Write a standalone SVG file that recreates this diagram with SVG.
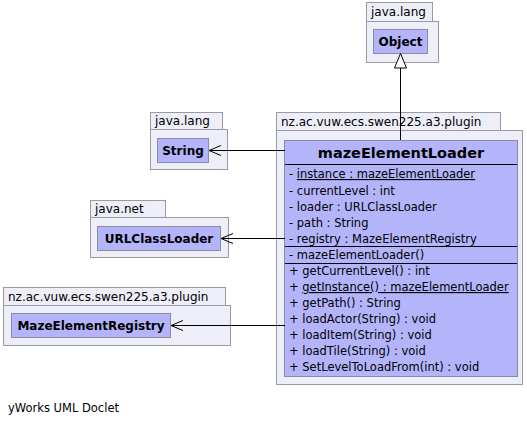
<svg xmlns="http://www.w3.org/2000/svg" width="527" height="423" viewBox="0 0 527 423">
<defs>
<style>
.pkg{fill:#eeeef9;stroke:#9a9aa6;stroke-width:1}
.cls{fill:#b4b4fb;stroke:#8c8ca0;stroke-width:1}
.t{font-family:"DejaVu Sans","Liberation Sans",sans-serif;font-size:11.5px;fill:#000}
.pl{font-family:"DejaVu Sans","Liberation Sans",sans-serif;font-size:12px;fill:#000}
.cn{font-family:"DejaVu Sans","Liberation Sans",sans-serif;font-size:12px;font-weight:bold;fill:#000;text-anchor:middle}
.title{font-family:"DejaVu Sans","Liberation Sans",sans-serif;font-size:14.5px;font-weight:bold;fill:#000;text-anchor:middle}
.ln{stroke:#000;stroke-width:1;fill:none}
</style>
</defs>
<rect width="527" height="423" fill="#fff"/>
<g id="pkg-object">
<rect class="pkg" x="366.5" y="2.5" width="66" height="19"/>
<rect class="pkg" x="366.5" y="21.5" width="72" height="41"/>
<text class="pl" x="371" y="16">java.lang</text>
<rect class="cls" x="373.5" y="29.5" width="54" height="24"/>
<text class="cn" x="400.5" y="46">Object</text>
</g>
<g id="pkg-string">
<rect class="pkg" x="150.5" y="112.5" width="72" height="17"/>
<rect class="pkg" x="150.5" y="129.5" width="77" height="40"/>
<text class="pl" x="155" y="125">java.lang</text>
<rect class="cls" x="157.5" y="138.5" width="51" height="24"/>
<text class="cn" x="183" y="155">String</text>
</g>
<g id="pkg-urlclassloader">
<rect class="pkg" x="90.5" y="200.5" width="75" height="17"/>
<rect class="pkg" x="90.5" y="217.5" width="138" height="40"/>
<text class="pl" x="95" y="213">java.net</text>
<rect class="cls" x="97.5" y="226.5" width="123" height="24"/>
<text class="cn" x="159" y="243">URLClassLoader</text>
</g>
<g id="pkg-mazeelementregistry">
<rect class="pkg" x="3.5" y="287.5" width="222" height="18"/>
<rect class="pkg" x="3.5" y="305.5" width="227" height="40"/>
<text class="pl" x="8" y="301">nz.ac.vuw.ecs.swen225.a3.plugin</text>
<rect class="cls" x="11.5" y="313.5" width="159" height="24"/>
<text class="cn" x="91" y="330">MazeElementRegistry</text>
</g>
<g id="pkg-mazeelementloader">
<rect class="pkg" x="276.5" y="112.5" width="224" height="18"/>
<rect class="pkg" x="276.5" y="130.5" width="246" height="254"/>
<text class="pl" x="281" y="126">nz.ac.vuw.ecs.swen225.a3.plugin</text>
<rect class="cls" x="284.5" y="140.5" width="233" height="236"/>
<text class="title" x="401" y="158">mazeElementLoader</text>
<line class="ln" x1="285" y1="164.5" x2="517" y2="164.5"/>
<text class="t" x="289" y="178">- <tspan text-decoration="underline">instance : mazeElementLoader</tspan></text>
<text class="t" x="289" y="195">- currentLevel : int</text>
<text class="t" x="289" y="211">- loader : URLClassLoader</text>
<text class="t" x="289" y="227">- path : String</text>
<text class="t" x="289" y="243">- registry : MazeElementRegistry</text>
<line class="ln" x1="285" y1="246.5" x2="517" y2="246.5"/>
<text class="t" x="289" y="259">- mazeElementLoader()</text>
<line class="ln" x1="285" y1="263.5" x2="517" y2="263.5"/>
<text class="t" x="289" y="275">+ getCurrentLevel() : int</text>
<text class="t" x="289" y="291">+ <tspan text-decoration="underline">getInstance() : mazeElementLoader</tspan></text>
<text class="t" x="289" y="307">+ getPath() : String</text>
<text class="t" x="289" y="323">+ loadActor(String) : void</text>
<text class="t" x="289" y="339">+ loadItem(String) : void</text>
<text class="t" x="289" y="355">+ loadTile(String) : void</text>
<text class="t" x="289" y="371">+ SetLevelToLoadFrom(int) : void</text>
</g>
<g id="connectors">
<line class="ln" x1="400.5" y1="68" x2="400.5" y2="140"/>
<polygon points="400.5,53.5 394.5,68 406.5,68" fill="#fff" stroke="#000" stroke-width="1"/>
<line class="ln" x1="209" y1="150.5" x2="285" y2="150.5"/>
<polyline class="ln" points="221,145.5 209,150.5 221,155.5"/>
<line class="ln" x1="221" y1="238.5" x2="285" y2="238.5"/>
<polyline class="ln" points="233,233.5 221,238.5 233,243.5"/>
<line class="ln" x1="171" y1="325.5" x2="285" y2="325.5"/>
<polyline class="ln" points="183,320.5 171,325.5 183,330.5"/>
</g>
<text class="t" x="8" y="412">yWorks UML Doclet</text>
</svg>
